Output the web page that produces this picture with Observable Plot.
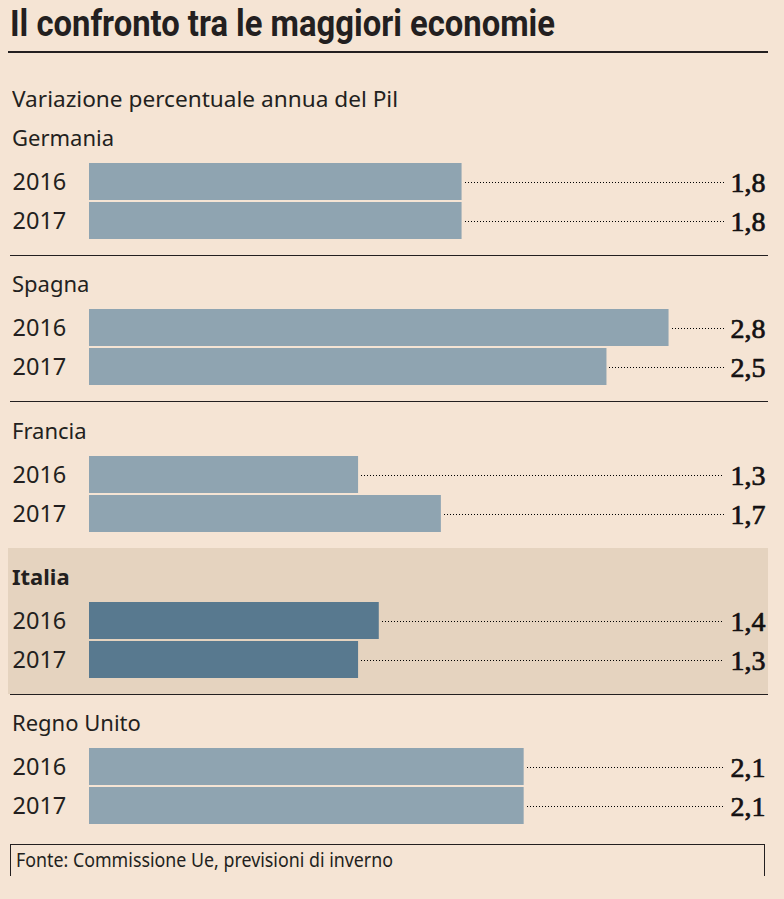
<!DOCTYPE html>
<html><head><meta charset="utf-8">
<script src="https://cdn.jsdelivr.net/npm/d3@7"></script>
<script src="https://cdn.jsdelivr.net/npm/@observablehq/plot@0.6"></script>
<style>
html,body{margin:0;padding:0;background:#f5e4d4;}
#page{position:relative;width:784px;height:899px;overflow:hidden;background:#f5e4d4;font-family:"Noto Sans",sans-serif;color:#231f20;}
.abs{position:absolute;}
.fit{display:inline-block;white-space:nowrap;transform-origin:0 50%;}
</style></head><body>
<div id="page"></div>
<script>
// ---- data ----
const countries = ["Germania", "Spagna", "Francia", "Italia", "Regno Unito"];
const years = ["2016", "2017"];
const values2016 = [1.8, 2.8, 1.3, 1.4, 2.1];
const values2017 = [1.8, 2.5, 1.7, 1.3, 2.1];
const highlight = "Italia";
const titleText = "Il confronto tra le maggiori economie";
const subtitleText = "Variazione percentuale annua del Pil";
const sourceText = "Fonte: Commissione Ue, previsioni di inverno";

// scale extents
const xMax = 3.266;
const leaderEnd = 3.07;

const ink = "#231f20";
const barColor = "#8fa4b1";
const barHighlight = "#58798f";
const bandColor = "#e5d3bf";
const fmt = v => d3.format(".1f")(v).replace(".", ",");

const page = document.getElementById("page");
function el(tag, css, text) {
  const e = document.createElement(tag);
  e.className = "abs";
  Object.assign(e.style, css);
  if (text != null) e.textContent = text;
  page.appendChild(e);
  return e;
}
function fitSpan(parent, text, targetWidth) {
  const s = document.createElement("span");
  s.className = "fit";
  s.textContent = text;
  parent.appendChild(s);
  const w = s.getBoundingClientRect().width;
  if (w > 0) s.style.transform = `scaleX(${targetWidth / w})`;
  return s;
}

// title
const t = el("div", {left: "10px", top: "2px", font: "bold 36px Roboto", lineHeight: "44px"});
fitSpan(t, titleText, 545);
el("div", {left: "8px", top: "51px", width: "760px", height: "2px", background: ink});

// subtitle
const st = el("div", {left: "12px", top: "83px", font: "22px 'Noto Sans'", lineHeight: "30px"});
fitSpan(st, subtitleText, 386);

// groups
const groupTops = countries.map((c, i) => Math.round(108 + i * 146.3));
countries.forEach((country, i) => {
  const top = groupTops[i];
  const isHi = country === highlight;
  if (isHi) {
    el("div", {left: "8px", top: (top + 1) + "px", width: "760px", height: "146px", background: bandColor});
  }
  el("div", {left: "12px", top: (top + 14) + "px", font: (isHi ? "bold " : "") + "22px 'Noto Sans'", lineHeight: "30px"}, country);
  if (i < countries.length - 1) {
    el("div", {left: "10px", top: (top + 147) + "px", width: "758px", height: "1px", background: ink});
  }
  const data = years.map((y, j) => ({year: y, value: (j === 0 ? values2016 : values2017)[i]}));
  const svg = Plot.plot({
    width: 784, height: 76,
    marginLeft: 89, marginRight: 19, marginTop: 0, marginBottom: 0,
    style: {background: "transparent", overflow: "visible"},
    x: {domain: [0, xMax], axis: null},
    y: {domain: years, axis: null, paddingInner: 2 / 39, paddingOuter: 0},
    marks: [
      Plot.barX(data, {x: "value", y: "year", fill: isHi ? barHighlight : barColor}),
      Plot.ruleY(data, {x1: "value", x2: () => leaderEnd, y: "year", stroke: "#000", strokeWidth: 1, strokeDasharray: "1,2", insetLeft: 3, shapeRendering: "crispEdges"}),
      Plot.text(data, {y: "year", text: "year", frameAnchor: "left", dx: -77, textAnchor: "start", fontSize: 23.5, fontFamily: "Noto Sans", fill: ink}),
      Plot.text(data, {y: "year", text: d => fmt(d.value), frameAnchor: "right", textAnchor: "end", dy: 1, fontSize: 28, fontFamily: "Liberation Serif", fontWeight: "normal", fill: "#141112", stroke: "#141112", strokeWidth: 0.7})
    ]
  });
  const holder = el("div", {left: "0px", top: (top + 55) + "px", width: "784px", height: "76px"});
  holder.appendChild(svg);
});

// footer
const f = el("div", {left: "10px", top: "844px", width: "755px", height: "32px", borderTop: "1px solid " + ink, borderLeft: "1px solid " + ink, borderRight: "1px solid " + ink, boxSizing: "border-box"});
const ft = document.createElement("div");
Object.assign(ft.style, {position: "absolute", left: "5px", top: "2px", font: "19px 'Noto Sans'", lineHeight: "26px"});
f.appendChild(ft);
fitSpan(ft, sourceText, 377);
</script>
</body></html>
